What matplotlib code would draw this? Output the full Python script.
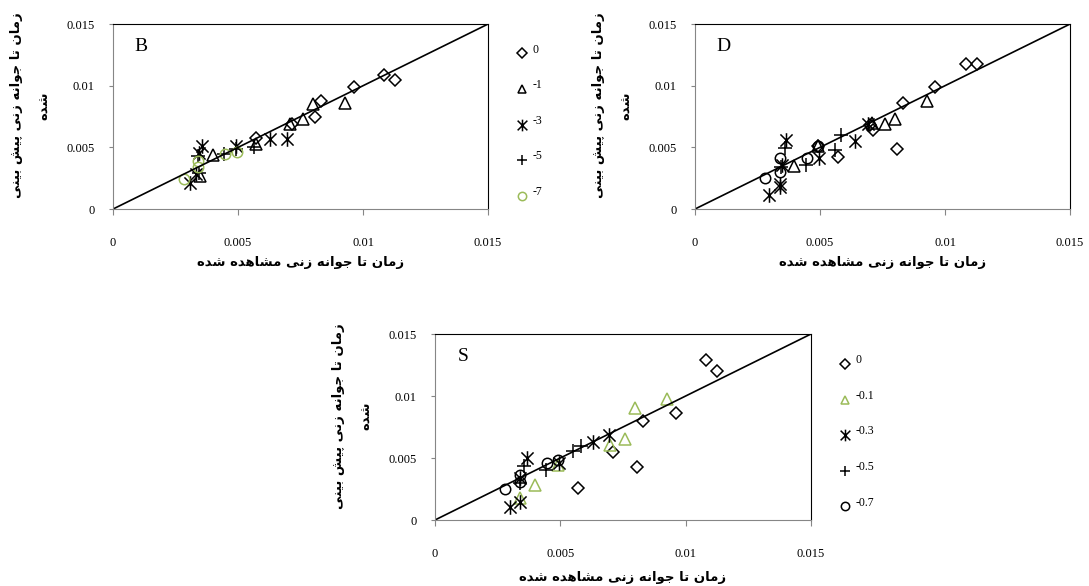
import matplotlib
matplotlib.use("Agg")
import matplotlib.pyplot as plt
from matplotlib.path import Path

# ---- data (units of 1e-3) ----
B_0 = [(11.27, 10.47), (10.83, 10.84), (9.63, 9.93), (8.33, 8.77), (8.07, 7.47), (7.17, 6.93), (5.70, 5.75)]
B_1 = [(9.29, 8.58), (8.0, 8.5), (7.6, 7.28), (7.07, 6.9), (5.7, 5.3), (4.0, 4.38), (3.48, 2.65)]
B_3 = [(6.97, 5.66), (6.29, 5.66), (4.93, 5.15), (3.57, 5.13), (3.44, 4.51), (3.08, 2.1), (3.3, 2.8)]
B_5 = [(5.64, 5.0), (4.44, 4.45), (4.9, 4.9), (3.4, 4.3), (3.45, 2.9)]
B_7 = [(2.84, 2.45), (3.38, 3.9), (3.4, 3.4), (4.47, 4.48), (4.95, 4.6)]

D_0 = [(11.27, 11.76), (10.83, 11.76), (9.6, 9.93), (8.31, 8.63), (8.07, 4.86), (7.13, 6.42), (7.0, 6.8), (5.73, 4.24), (4.93, 5.1)]
D_1 = [(9.27, 8.77), (8.0, 7.31), (7.6, 6.9), (7.07, 6.96), (4.91, 5.07), (3.97, 3.51)]
D_3 = [(6.93, 6.9), (6.4, 5.55), (4.96, 4.1), (3.65, 5.6), (3.47, 3.6), (3.4, 2.05), (3.4, 1.8), (2.97, 1.14)]
D_5 = [(5.84, 6.02), (5.6, 4.75), (4.42, 3.6), (3.58, 4.95), (3.45, 3.4)]
D_7 = [(4.47, 4.1), (3.4, 4.11), (3.4, 3.03), (2.8, 2.49), (4.93, 5.1)]

S_0 = [(10.83, 12.93), (11.27, 12.04), (9.6, 8.67), (8.31, 8.0), (7.11, 5.5), (8.05, 4.28), (5.72, 2.55)]
S_1 = [(9.27, 9.78), (8.0, 9.02), (7.6, 6.5), (6.98, 6.05), (4.0, 2.85), (3.4, 1.75), (4.92, 4.44)]
S_3 = [(6.95, 6.86), (6.32, 6.28), (4.93, 4.6), (3.66, 5.04), (3.4, 3.4), (3.39, 1.48), (2.99, 1.08)]
S_5 = [(5.81, 5.95), (5.52, 5.6), (4.43, 4.03), (3.56, 4.38), (3.39, 2.96)]
S_7 = [(2.79, 2.5), (3.39, 3.63), (3.39, 3.1), (4.45, 4.57), (4.92, 4.84)]

B_labels = ["0", "-1", "-3", "-5", "-7"]
S_labels = ["0", "-0.1", "-0.3", "-0.5", "-0.7"]
ticks = [0, 0.005, 0.01, 0.015]
tick_labels = ["0", "0.005", "0.01", "0.015"]

xlabel_fa = "زمان تا جوانه زنی مشاهده شده"
ylabel_fa = ["زمان تا جوانه زنی پیش بینی", "شده"]

GREEN = "#9bbb59"

# ---- simple persian shaping (matplotlib has no text shaping) ----
FORMS = {
    'ا': ('\uFE8D', '\uFE8E'),
    'د': ('\uFEA9', '\uFEAA'),
    'ز': ('\uFEAF', '\uFEB0'),
    'و': ('\uFEED', '\uFEEE'),
    'ب': ('\uFE8F', '\uFE90', '\uFE91', '\uFE92'),
    'پ': ('\uFB56', '\uFB57', '\uFB58', '\uFB59'),
    'ت': ('\uFE95', '\uFE96', '\uFE97', '\uFE98'),
    'ج': ('\uFE9D', '\uFE9E', '\uFE9F', '\uFEA0'),
    'ش': ('\uFEB5', '\uFEB6', '\uFEB7', '\uFEB8'),
    'م': ('\uFEE1', '\uFEE2', '\uFEE3', '\uFEE4'),
    'ن': ('\uFEE5', '\uFEE6', '\uFEE7', '\uFEE8'),
    'ه': ('\uFEE9', '\uFEEA', '\uFEEB', '\uFEEC'),
    'ی': ('\uFBFC', '\uFBFD', '\uFBFE', '\uFBFF'),
}


def shape(line):
    out = []
    for i, ch in enumerate(line):
        f = FORMS.get(ch)
        if f is None:
            out.append(ch)
            continue
        prev = line[i - 1] if i > 0 else ''
        nxt = line[i + 1] if i + 1 < len(line) else ''
        jp = prev in FORMS and len(FORMS[prev]) == 4
        jn = len(f) == 4 and nxt in FORMS
        if jp and jn:
            out.append(f[3])
        elif jp:
            out.append(f[1])
        elif jn:
            out.append(f[2])
        else:
            out.append(f[0])
    return ''.join(reversed(out))


# asterisk marker: X with a vertical bar
star = Path([(-1, -1), (1, 1), (-1, 1), (1, -1), (0, -1.2), (0, 1.2)],
            [Path.MOVETO, Path.LINETO, Path.MOVETO, Path.LINETO, Path.MOVETO, Path.LINETO])

plt.rcParams['font.family'] = ['Liberation Serif', 'DejaVu Serif']

fig = plt.figure(figsize=(10.89, 5.86), dpi=100)
axB = fig.add_axes([0.1038, 0.6433, 0.3444, 0.3157])
axD = fig.add_axes([0.6382, 0.6433, 0.3444, 0.3157])
axS = fig.add_axes([0.3994, 0.1126, 0.3453, 0.3174])


def draw(ax, series, colors, letter, xl_y=-0.29):
    styles = [dict(marker='D', ms=6.3), dict(marker='^', ms=8), dict(marker=star, ms=10.5),
              dict(marker='+', ms=9.5), dict(marker='o', ms=7.5)]
    handles = []
    for pts, col, st in zip(series, colors, styles):
        xs = [p[0] / 1000 for p in pts]
        ys = [p[1] / 1000 for p in pts]
        h, = ax.plot(xs, ys, ls='none', mfc='none', mec=col, mew=1.1, **st)
        handles.append(h)
    ax.plot([0, 0.015], [0, 0.015], color='black', lw=1.2)
    ax.set_xlim(0, 0.015)
    ax.set_ylim(0, 0.015)
    ax.set_xticks(ticks)
    ax.set_yticks(ticks)
    ax.set_xticklabels(tick_labels)
    ax.set_yticklabels(tick_labels)
    ax.tick_params(axis='x', length=4, pad=16, labelsize=9, color='#868686')
    ax.tick_params(axis='y', length=3, pad=10, labelsize=9, color='#868686')
    for s in ['left', 'bottom']:
        ax.spines[s].set_color('#868686')
    for s in ['top', 'right']:
        ax.spines[s].set_color('black')
    ax.text(0.075, 0.88, letter, transform=ax.transAxes, ha='center', va='center', fontsize=14)
    ax.text(0.5, xl_y, shape(xlabel_fa), transform=ax.transAxes, ha='center', va='center',
            fontsize=9.5, fontweight='bold', family='DejaVu Sans')
    ax.text(-0.22, 0.56, '\n'.join(shape(l) for l in ylabel_fa), transform=ax.transAxes,
            rotation=90, ha='center', va='center', multialignment='center', linespacing=2.5,
            fontsize=9.5, fontweight='bold', family='DejaVu Sans')
    return handles


hB = draw(axB, [B_0, B_1, B_3, B_5, B_7], ['black'] * 4 + [GREEN], 'B')
hD = draw(axD, [D_0, D_1, D_3, D_5, D_7], ['black'] * 5, 'D')
hS = draw(axS, [S_0, S_1, S_3, S_5, S_7], ['black', GREEN, 'black', 'black', 'black'], 'S', xl_y=-0.31)

for ax, h, labs in [(axB, hB, B_labels), (axS, hS, S_labels)]:
    leg = ax.legend(h, labs, loc='center left', bbox_to_anchor=(1.075, 0.45), frameon=False,
                    fontsize=8.5, handlelength=1.0, handletextpad=0.4, labelspacing=2.0,
                    markerscale=0.8, borderpad=0, borderaxespad=0)
    # labels sit a little above the markers, like superscripts
    for t in leg.get_texts():
        t.set_position((0, 5))

fig.savefig('out.png', dpi=100)
